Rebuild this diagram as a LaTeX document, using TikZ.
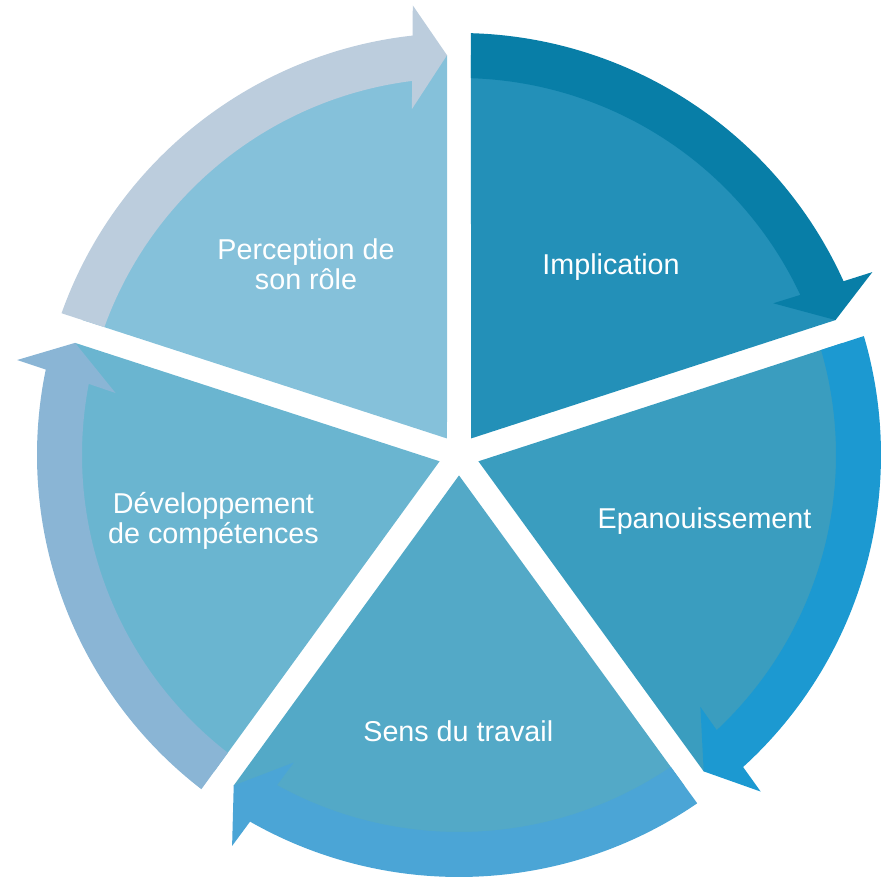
\documentclass[tikz,border=0pt]{standalone}
\usepackage{fontspec}
\setmainfont{Liberation Sans}
\usetikzlibrary{calc}
\definecolor{secImpl}{HTML}{2390B8}
\definecolor{arrImpl}{HTML}{087EA7}
\definecolor{secEpan}{HTML}{3A9DBF}
\definecolor{arrEpan}{HTML}{1C99D1}
\definecolor{secSens}{HTML}{53A9C7}
\definecolor{arrSens}{HTML}{4BA5D6}
\definecolor{secDev}{HTML}{6AB5D0}
\definecolor{arrDev}{HTML}{8AB5D5}
\definecolor{secPerc}{HTML}{85C1DA}
\definecolor{arrPerc}{HTML}{BCCDDD}
% sector between gap bisectors #1 (start) and #2 (end), colour #3
\newcommand\cycsector[3]{%
  \pgfmathsetmacro\cycSa{#1-asin(12/400)}%
  \pgfmathsetmacro\cycSb{#2+asin(12/400)}%
  \pgfmathsetmacro\cycSm{(#1+#2)/2}%
  \fill[#3] (\cycSm:20.42) -- (\cycSa:400)
    arc[start angle=\cycSa, end angle=\cycSb, radius=400] -- cycle;
}
% clockwise block arrow from gap #1 to gap #2, colour #3
\newcommand\cycarrow[3]{%
  \pgfmathsetmacro\cycTo{#1-asin(12/422)}%
  \pgfmathsetmacro\cycTi{#1-asin(12/377)}%
  \pgfmathsetmacro\cycTp{#2+asin(12/400)}%
  \pgfmathsetmacro\cycJo{\cycTp+4.6}%
  \pgfmathsetmacro\cycJi{\cycTp+5.41}%
  \pgfmathsetmacro\cycBo{\cycTp+4.15}%
  \pgfmathsetmacro\cycBi{\cycTp+6.05}%
  \fill[#3] (\cycTo:422)
    arc[start angle=\cycTo, end angle=\cycJo, radius=422]
    -- (\cycBo:452) -- (\cycTp:400) -- (\cycBi:349) -- (\cycJi:377)
    arc[start angle=\cycJi, end angle=\cycTi, radius=377] -- cycle;
}
\begin{document}
\begin{tikzpicture}[x=1pt,y=1pt,
  lbl/.style={anchor=base, inner sep=0pt, text=white,
    font=\fontsize{28.7}{29}\selectfont}]
\useasboundingbox (-459,-427) rectangle (421,455);
% sectors
\cycsector{90}{18}{secImpl}
\cycsector{18}{-54}{secEpan}
\cycsector{-54}{-126}{secSens}
\cycsector{-126}{-198}{secDev}
\cycsector{162}{90}{secPerc}
% arrows
\cycarrow{90}{18}{arrImpl}
\cycarrow{18}{-54}{arrEpan}
\cycarrow{-54}{-126}{arrSens}
\cycarrow{-126}{-198}{arrDev}
\cycarrow{162}{90}{arrPerc}
% labels
\node[lbl] (impl) at (152,180.3) {Implication};
\node[lbl] (epan) at (245.5,-73.3) {Epanouissement};
\node[lbl] (sens) at (-0.7,-286.7) {Sens du travail};
\node[lbl] (dev) at (-245.5,-58.3) {\begin{tabular}[t]{@{}c@{}}Développement\\de compétences\end{tabular}};
\node[lbl] (perc) at (-153,195) {\begin{tabular}[t]{@{}c@{}}Perception de\\son rôle\end{tabular}};
\end{tikzpicture}
\end{document}
